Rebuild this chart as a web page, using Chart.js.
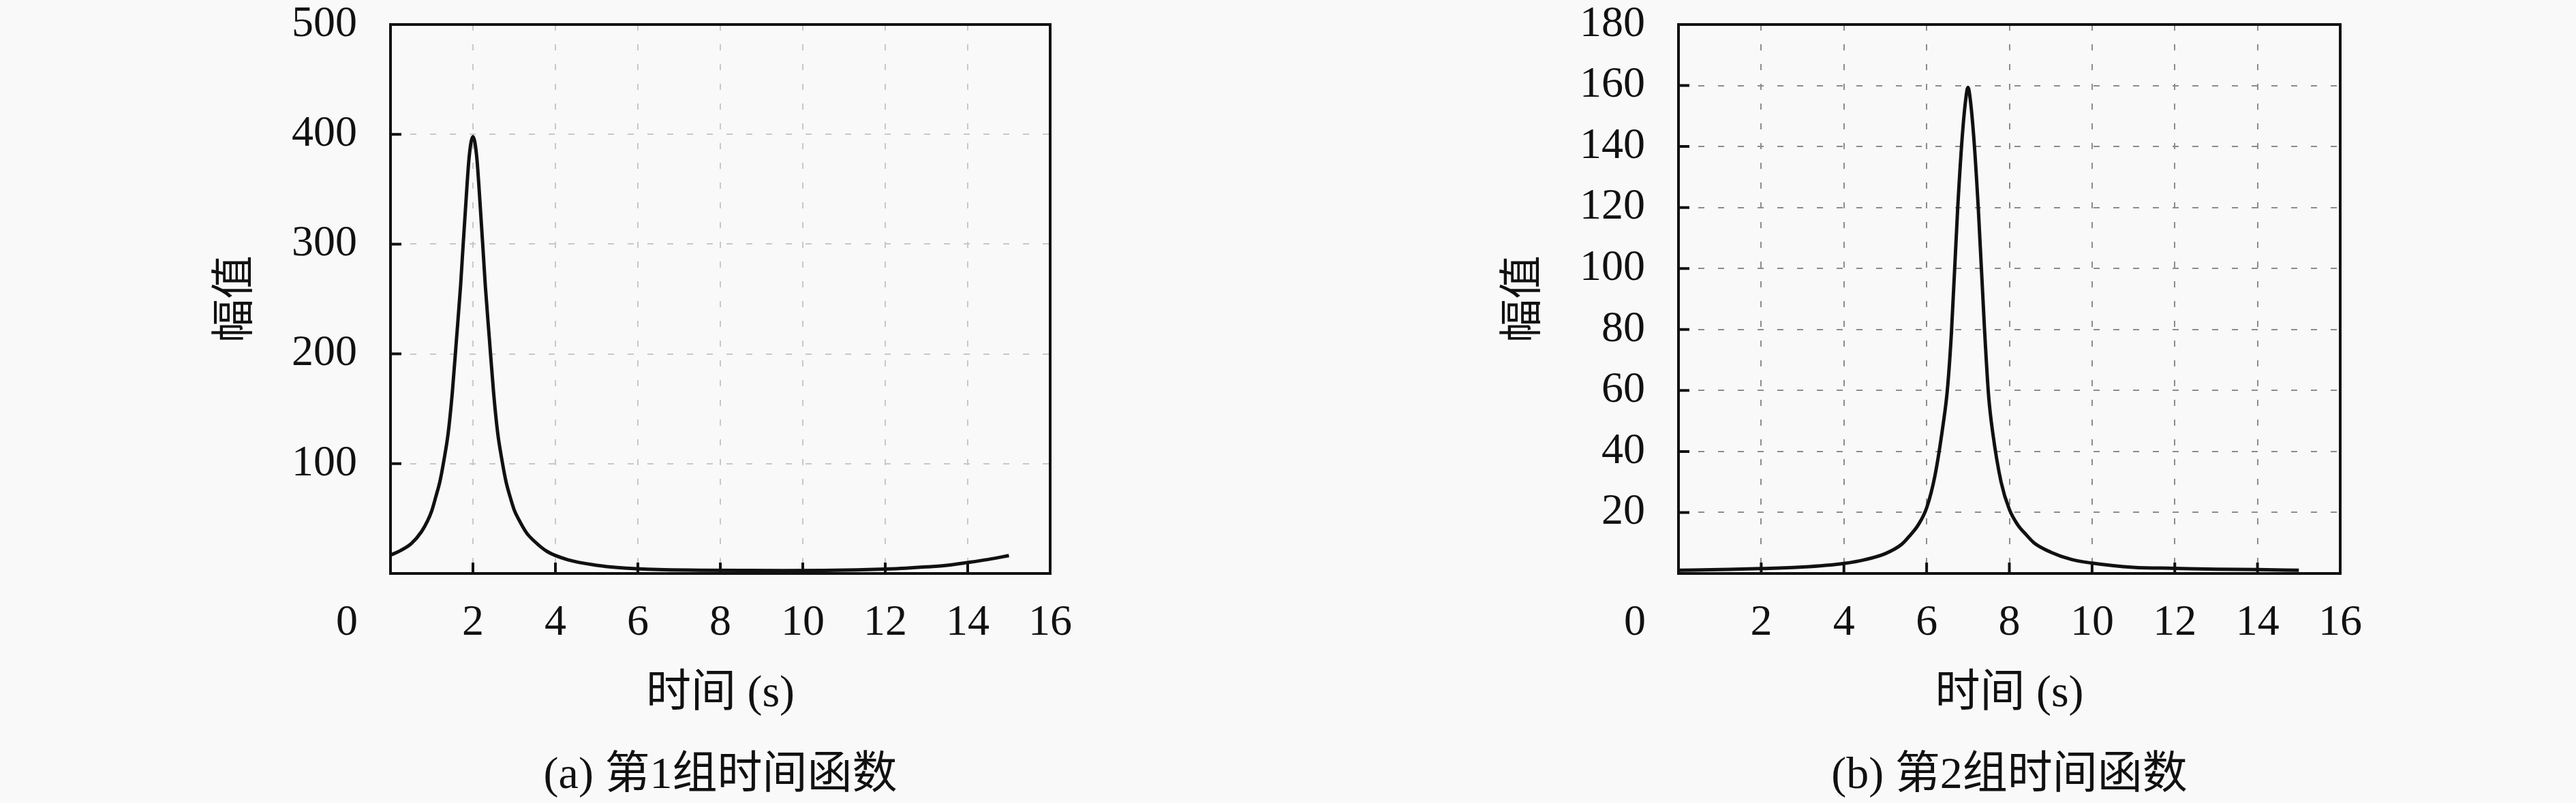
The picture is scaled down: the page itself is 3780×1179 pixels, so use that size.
<!DOCTYPE html>
<html>
<head>
<meta charset="utf-8">
<script src="https://cdn.jsdelivr.net/npm/chart.js@4.4.1/dist/chart.umd.min.js"></script>
<style>
  html, body { margin: 0; padding: 0; background: #f9f9f9; overflow: hidden; }
  .panel { position: absolute; top: 0; width: 1890px; height: 1200px; }
  #panelA { left: 0; }
  #panelB { left: 1890px; }
</style>
</head>
<body>
<div class="panel" id="panelA"><canvas id="chartA"></canvas></div>
<div class="panel" id="panelB"><canvas id="chartB"></canvas></div>
<script>
// ---- data ----
const xTicks = [0, 2, 4, 6, 8, 10, 12, 14, 16];

const time1 = [0, 0.25, 0.5, 0.75, 0.9, 1.0, 1.1, 1.2, 1.3, 1.4, 1.5, 1.6, 1.7, 1.75, 1.85, 1.9, 1.95, 2.0, 2.05, 2.1,
               2.15, 2.25, 2.3, 2.4, 2.5, 2.6, 2.7, 2.8, 2.9, 3.0, 3.1, 3.3, 3.5, 3.8, 4.3, 5.0, 5.5, 6.5, 7.5, 8.5,
               9.5, 10.5, 11.3, 12.0, 12.5, 13.0, 13.5, 14.0, 14.5, 15.0];
const amp1  = [16.7, 21, 27, 38, 48, 57, 70, 84, 104, 128, 165, 213, 262, 292, 350, 376, 392, 398, 392, 376,
               350, 292, 262, 213, 165, 128, 104, 84, 70, 58, 50, 37, 29, 20, 12.5, 7.5, 5.5, 3.5, 3, 2.8,
               2.7, 2.8, 3.3, 4, 4.8, 6, 7.5, 10, 12.8, 16.3];
const yTicks1 = [0, 100, 200, 300, 400, 500];

const time2 = [0, 1, 2, 3, 4, 4.5, 5, 5.4, 5.6, 5.8, 6.0, 6.2, 6.4, 6.5, 6.6, 6.75, 6.86, 6.95, 7.0, 7.05, 7.14, 7.25,
               7.4, 7.5, 7.6, 7.8, 8.0, 8.2, 8.4, 8.6, 9.0, 9.5, 10, 11, 12, 13, 14, 15];
const amp2  = [1.05, 1.3, 1.6, 2.1, 3.3, 4.5, 6.5, 9.6, 12.5, 16, 21.5, 32, 49, 60, 79, 119.5, 143, 156, 159.4, 156, 143, 119.5,
               80, 58, 46, 30, 21, 16, 12.8, 10, 7, 4.6, 3.4, 2.0, 1.7, 1.4, 1.3, 1.05];
const yTicks2 = [0, 20, 40, 60, 80, 100, 120, 140, 160, 180];

const captions = ['(a) 第1组时间函数', '(b) 第2组时间函数'];
const xTitle = '时间 (s)';
const yTitle = '幅值';

const FONT = '"Liberation Serif", "Noto Sans CJK SC", serif';
const INK = '#111';

// frame round the plot area and short inward tick marks
const frameAndTicks = {
    id: 'frameAndTicks',
    afterDatasetsDraw(chart) {
        const { ctx, chartArea: a, scales: { x, y } } = chart;
        ctx.save();
        ctx.strokeStyle = INK;
        ctx.lineWidth = 4;
        ctx.beginPath();
        x.ticks.forEach(t => {
            if (t.value <= x.min || t.value >= x.max) return;
            const px = x.getPixelForValue(t.value);
            ctx.moveTo(px, a.bottom);
            ctx.lineTo(px, a.bottom - 16);
        });
        y.ticks.forEach(t => {
            if (t.value <= y.min || t.value >= y.max) return;
            const py = y.getPixelForValue(t.value);
            ctx.moveTo(a.left, py);
            ctx.lineTo(a.left + 16, py);
        });
        ctx.stroke();
        ctx.strokeRect(a.left, a.top, a.right - a.left, a.bottom - a.top);
        ctx.restore();
    }
};

function makeChart(id, times, amps, yTicks, caption, gridColor, rightPad) {
    const yMax = yTicks[yTicks.length - 1];
    return new Chart(document.getElementById(id), {
        type: 'line',
        data: {
            datasets: [{
                data: times.map((t, i) => ({ x: t, y: amps[i] })),
                borderColor: INK,
                borderWidth: 5,
                pointRadius: 0,
                cubicInterpolationMode: 'monotone',
                fill: false
            }]
        },
        options: {
            responsive: true,
            maintainAspectRatio: false,
            animation: false,
            devicePixelRatio: 1,
            layout: { padding: { left: 0, right: rightPad, top: 36, bottom: 0 } },
            plugins: {
                legend: { display: false },
                tooltip: { enabled: false }
            },
            scales: {
                x: {
                    type: 'linear',
                    min: 0,
                    max: 16,
                    afterBuildTicks: s => { s.ticks = xTicks.map(v => ({ value: v })); },
                    afterFit: s => { s.height = 358; s.paddingLeft = 0; s.paddingRight = 0; },
                    ticks: {
                        autoSkip: false,
                        maxRotation: 0,
                        minRotation: 0,
                        padding: 35,
                        color: INK,
                        font: { family: FONT, size: 64 },
                        // the zero label sits left of the corner in the original
                        callback: v => v === 0 ? '0' + ' '.repeat(8) : String(v)
                    },
                    grid: { color: gridColor, lineWidth: 2, drawTicks: false },
                    border: { display: false, dash: [9, 20] },
                    // axis name, then the panel caption one line below, both centred on the plot
                    title: {
                        display: true,
                        text: [xTitle, caption],
                        color: INK,
                        font: { family: FONT, size: 66, lineHeight: 120 / 66 },
                        padding: { top: 0, bottom: 0 }
                    }
                },
                y: {
                    min: 0,
                    max: yMax,
                    afterBuildTicks: s => { s.ticks = yTicks.map(v => ({ value: v })); },
                    afterFit: s => { s.width = 573; s.paddingTop = 0; s.paddingBottom = 0; },
                    ticks: {
                        padding: 49,
                        color: INK,
                        font: { family: FONT, size: 64 },
                        callback: v => v === 0 ? '' : String(v)
                    },
                    grid: { color: gridColor, lineWidth: 2, drawTicks: false },
                    border: { display: false, dash: [9, 20] },
                    title: {
                        display: true,
                        text: yTitle,
                        color: INK,
                        font: { family: FONT, size: 64 },
                        padding: { top: 308.6, bottom: 0 }
                    }
                }
            }
        },
        plugins: [frameAndTicks]
    });
}

makeChart('chartA', time1, amp1, yTicks1, captions[0], '#c8c8c8', 349);
makeChart('chartB', time2, amp2, yTicks2, captions[1], '#8c8c8c', 346);
</script>
</body>
</html>
